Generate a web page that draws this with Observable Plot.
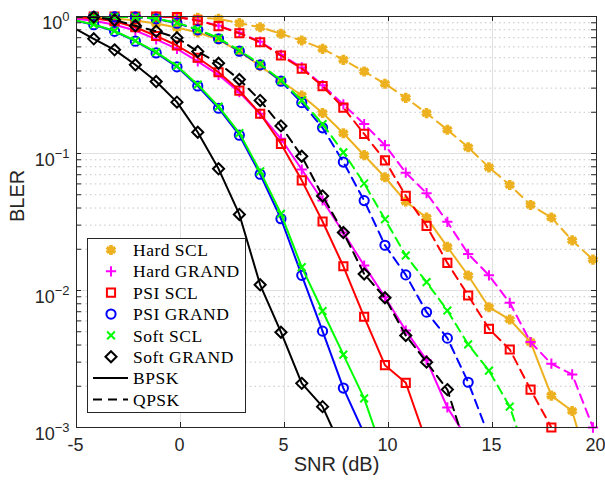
<!DOCTYPE html>
<html><head><meta charset="utf-8">
<script src="https://cdn.jsdelivr.net/npm/d3@7"></script>
<script src="https://cdn.jsdelivr.net/npm/@observablehq/plot@0.6"></script>
<style>
html,body{margin:0;padding:0;background:#fff;}
#chart{position:relative;width:605px;height:482px;}
svg{display:block}
</style></head><body><div id="chart"></div>
<script>
// SNR points (dB)
const snr = [-5.17, -4.17, -3.17, -2.17, -1.17, -0.17, 0.83, 1.83, 2.83, 3.83, 4.83, 5.83, 6.83,
  7.83, 8.83, 9.83, 10.83, 11.83, 12.83, 13.83, 14.83, 15.83, 16.83, 17.83, 18.83, 19.83];

const seriesNames = ["Hard SCL", "Hard GRAND", "PSI SCL", "PSI GRAND", "Soft SCL", "Soft GRAND"];
const modulations = ["BPSK", "QPSK"];

// BLER values (index aligned with snr)
const hardSclBpsk = [0.99, 0.983, 0.967, 0.935, 0.889, 0.831, 0.764, 0.679, 0.555, 0.435, 0.338, 0.265, 0.1975,
  0.1406, 0.0972, 0.0671, 0.0446, 0.034, 0.0208, 0.01286, 0.00755, 0.00614, 0.0042, 0.00171, 0.00132, 0.0004];
const hardSclQpsk = [1, 1, 1, 0.999, 0.998, 0.995, 0.978, 0.962, 0.894, 0.835, 0.748, 0.668, 0.581, 0.483,
  0.397, 0.323, 0.255, 0.197, 0.149, 0.111, 0.0792, 0.0589, 0.0421, 0.0341, 0.0232, 0.0168];
const hardGrandBpsk = [0.97, 0.93, 0.87, 0.79, 0.68, 0.58, 0.47, 0.375, 0.28, 0.195, 0.128, 0.0764, 0.0454,
  0.0265, 0.0152, 0.00894, 0.0051, 0.0031, 0.0014, 0.00081];
const hardGrandQpsk = [1, 1, 1, 1, 0.998, 0.99, 0.94, 0.855, 0.76, 0.655, 0.525, 0.425, 0.315, 0.228, 0.164,
  0.115, 0.0724, 0.0513, 0.0317, 0.0185, 0.0129, 0.00813, 0.0042, 0.00292, 0.00244, 0.001];
const psiSclBpsk = [0.99, 0.972, 0.923, 0.835, 0.721, 0.614, 0.50, 0.392, 0.288, 0.195, 0.1177, 0.0637, 0.0319,
  0.01503, 0.00643, 0.00285, 0.00212, 0.00078];
const psiSclQpsk = [1, 1, 1, 1, 0.998, 0.99, 0.935, 0.85, 0.755, 0.649, 0.519, 0.417, 0.31, 0.216, 0.139, 0.089,
  0.0491, 0.0296, 0.0159, 0.0092, 0.00525, 0.00371, 0.00189, 0.001, 0.0005];
const psiGrandBpsk = [0.94, 0.871, 0.78, 0.66, 0.542, 0.429, 0.311, 0.214, 0.136, 0.0706, 0.0334, 0.0129,
  0.00505, 0.00194, 0.0009];
const psiGrandQpsk = [1, 0.998, 0.995, 0.99, 0.962, 0.894, 0.80, 0.688, 0.558, 0.444, 0.337, 0.235, 0.154,
  0.0866, 0.0453, 0.0214, 0.013, 0.00695, 0.00449, 0.00214, 0.00086];
const softSclBpsk = [0.945, 0.875, 0.785, 0.665, 0.55, 0.435, 0.318, 0.22, 0.141, 0.074, 0.0363, 0.0148,
  0.00708, 0.0034, 0.00163, 0.00059];
const softSclQpsk = [1, 0.998, 0.995, 0.99, 0.965, 0.9, 0.805, 0.695, 0.565, 0.45, 0.342, 0.244, 0.164, 0.102,
  0.0604, 0.0331, 0.018, 0.0115, 0.00714, 0.00404, 0.0026, 0.00142, 0.0005];
const softGrandBpsk = [0.83, 0.687, 0.571, 0.444, 0.335, 0.237, 0.143, 0.0773, 0.0359, 0.011, 0.00496,
  0.0021, 0.00142, 0.00066];
const softGrandQpsk = [1, 0.99, 0.943, 0.855, 0.781, 0.70, 0.555, 0.456, 0.347, 0.244, 0.159, 0.0955, 0.049,
  0.0265, 0.0132, 0.00885, 0.0047, 0.003, 0.00189, 0.00063];

// axis ticks
const xTicks = [-5, 0, 5, 10, 15, 20];
const yTicks = [1, 0.1, 0.01, 0.001];
const yTickLabels = ["10^0", "10^-1", "10^-2", "10^-3"];
const yMinorTicks = [0.002, 0.003, 0.004, 0.005, 0.006, 0.007, 0.008, 0.009,
  0.02, 0.03, 0.04, 0.05, 0.06, 0.07, 0.08, 0.09,
  0.2, 0.3, 0.4, 0.5, 0.6, 0.7, 0.8, 0.9];

// styles
const colors = {"Hard SCL": "#EDB120", "Hard GRAND": "#FF00FF", "PSI SCL": "#FF0000",
  "PSI GRAND": "#0000FF", "Soft SCL": "#00FF00", "Soft GRAND": "#000000"};
const symbols = {"Hard SCL": "asterisk", "Hard GRAND": "plus", "PSI SCL": "square2",
  "PSI GRAND": "circle", "Soft SCL": "times", "Soft GRAND": "diamond2"};
const d3symbols = {"asterisk": d3.symbolAsterisk, "plus": d3.symbolPlus, "square2": d3.symbolSquare2,
  "circle": d3.symbolCircle, "times": d3.symbolTimes, "diamond2": d3.symbolDiamond2};
const radii = {"Hard SCL": 4.8, "Hard GRAND": 3.4, "PSI SCL": 5.2, "PSI GRAND": 4.6, "Soft SCL": 3.6, "Soft GRAND": 5.0};
const markerWidth = {"Hard SCL": 3.6, "Hard GRAND": 2, "PSI SCL": 2, "PSI GRAND": 2, "Soft SCL": 2, "Soft GRAND": 2};
const dash = "9,6";

const table = [
  {name: "Hard SCL", mod: "BPSK", values: hardSclBpsk},
  {name: "Hard SCL", mod: "QPSK", values: hardSclQpsk},
  {name: "Hard GRAND", mod: "BPSK", values: hardGrandBpsk},
  {name: "Hard GRAND", mod: "QPSK", values: hardGrandQpsk},
  {name: "PSI SCL", mod: "BPSK", values: psiSclBpsk},
  {name: "PSI SCL", mod: "QPSK", values: psiSclQpsk},
  {name: "PSI GRAND", mod: "BPSK", values: psiGrandBpsk},
  {name: "PSI GRAND", mod: "QPSK", values: psiGrandQpsk},
  {name: "Soft SCL", mod: "BPSK", values: softSclBpsk},
  {name: "Soft SCL", mod: "QPSK", values: softSclQpsk},
  {name: "Soft GRAND", mod: "BPSK", values: softGrandBpsk},
  {name: "Soft GRAND", mod: "QPSK", values: softGrandQpsk}
];

const W = 605, H = 482, mL = 76, mR = 9, mT = 16, mB = 55;
const fw = W - mL - mR, fh = H - mT - mB;
const axisColor = "#262626";

const seriesMarks = table.flatMap(s => {
  const data = s.values.map((v, i) => ({snr: snr[i], bler: v}));
  const inside = data.filter(d => d.snr >= -5 && d.snr <= 20 && d.bler >= 0.000999 && d.bler <= 1.0001);
  return [
    Plot.line(data, {x: "snr", y: "bler", stroke: colors[s.name], strokeWidth: 2,
      strokeDasharray: s.mod === "QPSK" ? dash : undefined, clip: true}),
    Plot.dot(inside, {x: "snr", y: "bler", symbol: symbols[s.name], r: radii[s.name],
      stroke: colors[s.name], fill: "none", strokeWidth: markerWidth[s.name]})
  ];
});

const allYTicks = yTicks.concat(yMinorTicks);

const svg = Plot.plot({
  width: W, height: H,
  marginLeft: mL, marginRight: mR, marginTop: mT, marginBottom: mB,
  style: {fontFamily: "'Liberation Sans', Arial, sans-serif", background: "#fff", color: "#262626"},
  x: {domain: [-5, 20]},
  y: {type: "log", domain: [0.001, 1]},
  marks: [
    Plot.ruleY(yMinorTicks, {stroke: "#c4c4c4", strokeDasharray: "1.5,3.2"}),
    Plot.ruleY(yTicks, {stroke: "#e0e0e0"}),
    Plot.ruleX(xTicks, {stroke: "#e0e0e0"}),
    ...seriesMarks,
    Plot.ruleX(xTicks, {insetTop: fh - 5, stroke: axisColor}),
    Plot.ruleX(xTicks, {insetBottom: fh - 5, stroke: axisColor}),
    Plot.ruleY(allYTicks, {insetRight: fw - 5, stroke: axisColor}),
    Plot.ruleY(allYTicks, {insetLeft: fw - 5, stroke: axisColor}),
    Plot.frame({stroke: axisColor, strokeWidth: 1}),
    Plot.axisX({ticks: xTicks, tickSize: 0, tickPadding: 11, fontSize: 18, label: null, dx: -1,
      tickFormat: d => String(d)}),
    Plot.axisY({ticks: yTicks, tickSize: 0, tickPadding: 7, fontSize: 18, label: null, dy: 7,
      tickFormat: (d, i) => yTickLabels[yTicks.indexOf(d)]}),
    Plot.text(["SNR (dB)"], {frameAnchor: "bottom", dy: 43, fontSize: 20, fill: axisColor}),
    Plot.text(["BLER"], {frameAnchor: "left", dx: -59, rotate: -90, fontSize: 20, fill: axisColor})
  ]
});

// superscripts for log tick labels
const ns = "http://www.w3.org/2000/svg";
svg.querySelectorAll('g[aria-label="y-axis tick label"] text').forEach(t => {
  const parts = t.textContent.split("^");
  if (parts.length !== 2) return;
  t.textContent = parts[0];
  const ts = document.createElementNS(ns, "tspan");
  ts.setAttribute("dy", "-8");
  ts.setAttribute("font-size", "13");
  ts.textContent = parts[1].replace("-", "\u2212");
  t.appendChild(ts);
});

// legend
const lg = d3.select(svg).append("g").attr("class", "legend").attr("text-anchor", "start");
const lx = 87.5, ly = 238.5, lw = 158, lh = 174, rowH = 21.35, row0 = 250;
lg.append("rect").attr("x", lx).attr("y", ly).attr("width", lw).attr("height", lh)
  .attr("fill", "#fff").attr("stroke", axisColor).attr("stroke-width", 1);
const entries = seriesNames.map(n => ({label: n, kind: "marker", name: n}))
  .concat(modulations.map(m => ({label: m, kind: "line", mod: m})));
entries.forEach((e, i) => {
  const y = row0 + i * rowH;
  if (e.kind === "marker") {
    const r = radii[e.name];
    const sym = d3symbols[symbols[e.name]];
    lg.append("path").attr("transform", `translate(111,${y})`)
      .attr("d", d3.symbol(sym, Math.PI * r * r)())
      .attr("fill", "none").attr("stroke", colors[e.name]).attr("stroke-width", markerWidth[e.name]);
  } else {
    lg.append("line").attr("x1", 93).attr("x2", 128).attr("y1", y).attr("y2", y)
      .attr("stroke", "#000").attr("stroke-width", 2)
      .attr("stroke-dasharray", e.mod === "QPSK" ? dash : null);
  }
  lg.append("text").attr("x", 133).attr("y", y).attr("dy", "0.35em")
    .attr("text-anchor", "start")
    .attr("font-family", "'Liberation Serif', 'Times New Roman', serif")
    .attr("font-size", 17.5).attr("letter-spacing", 0.5).attr("fill", "#000")
    .text(e.label);
});

document.getElementById("chart").appendChild(svg);
</script>
</body></html>
